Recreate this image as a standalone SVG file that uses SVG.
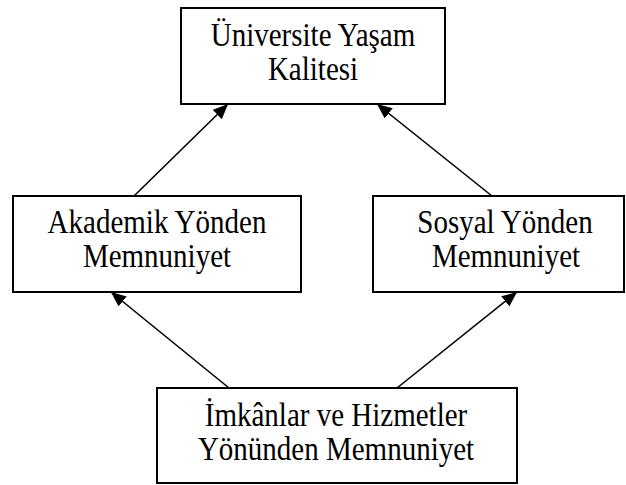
<svg xmlns="http://www.w3.org/2000/svg" width="626" height="485" viewBox="0 0 626 485">
<style>
.box{fill:#ffffff;stroke:#000000;stroke-width:2}
.lbl{font-family:"Liberation Serif","Times New Roman",serif;font-size:29px;fill:#000000;text-anchor:middle}
.edge{stroke:#000000;stroke-width:1.6;fill:none;marker-end:url(#ah)}
</style>
<defs>
<marker id="ah" markerUnits="userSpaceOnUse" markerWidth="16" markerHeight="14" refX="15" refY="6.5" orient="auto">
<path d="M0,0 L15,6.5 L0,13 z" fill="#000000"/>
</marker>
</defs>
<rect width="626" height="485" fill="#ffffff"/>
<g id="connectors">
<line class="edge" x1="134" y1="196" x2="228" y2="104"/>
<line class="edge" x1="492" y1="196" x2="377" y2="104"/>
<line class="edge" x1="229" y1="388" x2="111" y2="292"/>
<line class="edge" x1="397" y1="388" x2="517" y2="292"/>
</g>
<g id="n-quality">
<rect class="box" x="181" y="8" width="264" height="96"/>
<text class="lbl" transform="translate(313,46) scale(1,1.15)">Üniversite Yaşam</text>
<text class="lbl" transform="translate(313,80) scale(1,1.15)">Kalitesi</text>
</g>
<g id="n-academic">
<rect class="box" x="13" y="196" width="288" height="96"/>
<text class="lbl" transform="translate(157,233) scale(1,1.15)">Akademik Yönden</text>
<text class="lbl" transform="translate(157,267) scale(1,1.15)">Memnuniyet</text>
</g>
<g id="n-social">
<rect class="box" x="373" y="196" width="251" height="96"/>
<text class="lbl" transform="translate(505,233) scale(1,1.15)">Sosyal Yönden</text>
<text class="lbl" transform="translate(506,267) scale(1,1.15)">Memnuniyet</text>
</g>
<g id="n-facilities">
<rect class="box" x="157" y="388" width="360" height="95"/>
<text class="lbl" transform="translate(336,426) scale(1,1.15)">İmkânlar ve Hizmetler</text>
<text class="lbl" transform="translate(336,460) scale(1,1.15)">Yönünden Memnuniyet</text>
</g>
</svg>
